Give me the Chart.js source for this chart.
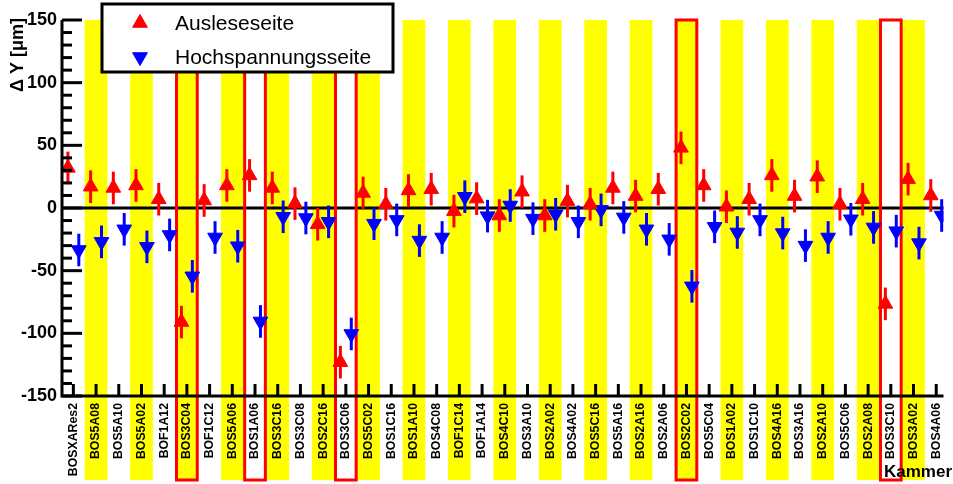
<!DOCTYPE html>
<html>
<head>
<meta charset="utf-8">
<script src="https://cdn.jsdelivr.net/npm/chart.js@4.4.1/dist/chart.umd.min.js"></script>
<style>
  html, body { margin: 0; padding: 0; background: #fff; overflow: hidden; }
</style>
</head>
<body>
<canvas id="chart" width="953" height="484"></canvas>
<script>
// Kammern (x-Achse) und gemessene Verschiebungen in µm
const kammern = ['BOSXARes2', 'BOS5A08', 'BOS5A10', 'BOS5A02', 'BOF1A12', 'BOS3C04', 'BOF1C12', 'BOS5A06',
    'BOS1A06', 'BOS3C16', 'BOS3C08', 'BOS2C16', 'BOS3C06', 'BOS5C02', 'BOS1C16', 'BOS1A10', 'BOS4C08',
    'BOF1C14', 'BOF1A14', 'BOS4C10', 'BOS3A10', 'BOS2A02', 'BOS4A02', 'BOS5C16', 'BOS5A16', 'BOS2A16',
    'BOS2A06', 'BOS2C02', 'BOS5C04', 'BOS1A02', 'BOS1C10', 'BOS4A16', 'BOS3A16', 'BOS2A10', 'BOS5C06',
    'BOS2A08', 'BOS3C10', 'BOS3A02', 'BOS4A06'];
const ausleseseite = [32, 17, 16, 18, 7, -91, 6, 18, 26, 16, 3.5, -13, -123, 12, 3, 14, 15, -2.5, 7.5, -6,
    13, -6, 5.5, 3, 16, 9.5, 15, 48, 18, 1, 7, 26, 9.5, 25, 3, 7, -76.5, 23, 10];
const hochspannungsseite = [-33.5, -27, -17, -31, -21.5, -54.5, -23.5, -30.5, -90.5, -7, -8, -11, -100.5,
    -12.5, -9.5, -26, -23.5, 9, -6.5, 2, -8.5, -5, -11, -1.5, -7.5, -17, -25, -62.5, -15, -19.5, -9.5, -20,
    -30, -23.5, -9, -15.5, -18.5, -28, -6];
const fehler = 13;
const markierteKammern = ['BOS3C04', 'BOS1A06', 'BOS3C06', 'BOS2C02', 'BOS3C10'];

const FONT = '"Liberation Sans", Arial, sans-serif';
const ROT = '#ff0000';
const BLAU = '#0000ff';
const GELB = '#ffff00';
const versatz = 0.24; // die beiden Seiten leicht nebeneinander

const bandUnten = 480;

const deko = {
    id: 'deko',
    beforeDraw(chart) {
        const { ctx, chartArea: a, scales: { x } } = chart;
        ctx.save();
        ctx.fillStyle = '#fff';
        ctx.fillRect(0, 0, chart.width, chart.height);
        // gelbe Streifen hinter jeder zweiten Kammer
        ctx.fillStyle = GELB;
        kammern.forEach((k, i) => {
            if (i % 2 === 1) {
                const l = x.getPixelForValue(i - 0.5);
                const r = x.getPixelForValue(i + 0.5);
                ctx.fillRect(l, a.top, r - l, bandUnten - a.top);
            }
        });
        ctx.restore();
    },
    beforeDatasetsDraw(chart) {
        const { ctx, chartArea: a, scales: { x, y } } = chart;
        ctx.save();
        // Nulllinie
        ctx.strokeStyle = '#000';
        ctx.lineWidth = 3;
        ctx.beginPath();
        ctx.moveTo(a.left, y.getPixelForValue(0));
        ctx.lineTo(a.right, y.getPixelForValue(0));
        ctx.stroke();

        // rote Rahmen um auffällige Kammern
        ctx.strokeStyle = ROT;
        markierteKammern.forEach(name => {
            const i = kammern.indexOf(name);
            const l = x.getPixelForValue(i - 0.5) + 1;
            const r = x.getPixelForValue(i + 0.5) - 1;
            ctx.strokeRect(l, a.top, r - l, bandUnten - a.top);
        });

        // Fehlerbalken
        chart.data.datasets.forEach(ds => {
            ctx.strokeStyle = ds.backgroundColor;
            ctx.lineWidth = 3;
            ds.data.forEach(p => {
                const px = x.getPixelForValue(p.x);
                ctx.beginPath();
                ctx.moveTo(px, y.getPixelForValue(p.y - fehler));
                ctx.lineTo(px, y.getPixelForValue(p.y + fehler));
                ctx.stroke();
            });
        });
        ctx.restore();
    },
    afterDatasetsDraw(chart) {
        const { ctx, chartArea: a, scales: { x, y } } = chart;
        ctx.save();
        ctx.strokeStyle = '#000';
        ctx.lineWidth = 3;

        // Achsen
        ctx.beginPath();
        ctx.moveTo(a.left, a.top);
        ctx.lineTo(a.left, a.bottom);
        ctx.lineTo(a.right, a.bottom);
        ctx.stroke();

        // y-Ticks nach innen
        for (let v = -150; v <= 150; v += 10) {
            const py = y.getPixelForValue(v);
            ctx.beginPath();
            ctx.moveTo(a.left, py);
            ctx.lineTo(a.left + (v % 50 === 0 ? 20 : 10), py);
            ctx.stroke();
        }
        // x-Ticks nach innen
        kammern.forEach((k, i) => {
            const px = x.getPixelForValue(i);
            ctx.beginPath();
            ctx.moveTo(px, a.bottom);
            ctx.lineTo(px, a.bottom - 12);
            ctx.stroke();
        });

        // Achsentitel
        ctx.fillStyle = '#000';
        ctx.font = 'bold 17px ' + FONT;
        ctx.textAlign = 'right';
        ctx.textBaseline = 'alphabetic';
        ctx.fillText('Kammer', 952, 477);

        ctx.save();
        ctx.translate(23, 18);
        ctx.rotate(-Math.PI / 2);
        ctx.font = 'bold 18px ' + FONT;
        ctx.fillText('\u0394 Y [\u03bcm]', 0, 0);
        ctx.restore();

        // Legende
        ctx.fillStyle = '#fff';
        ctx.fillRect(102, 4, 291, 68);
        ctx.strokeRect(102, 4, 291, 68);
        ctx.font = '21px ' + FONT;
        ctx.textAlign = 'left';
        ctx.textBaseline = 'middle';
        chart.data.datasets.forEach((ds, k) => {
            const ly = k === 0 ? 23 : 57;
            ctx.fillStyle = ds.backgroundColor;
            ctx.strokeStyle = ds.backgroundColor;
            ctx.lineWidth = 1;
            Chart.helpers.drawPoint(ctx, {
                pointStyle: 'triangle',
                radius: ds.pointRadius,
                rotation: ds.pointRotation || 0,
                borderWidth: 1
            }, 140, ly);
            ctx.fillStyle = '#000';
            ctx.fillText(ds.label, 175, ly + 1);
        });
        ctx.restore();
    }
};

new Chart(document.getElementById('chart'), {
    type: 'scatter',
    data: {
        datasets: [{
            label: 'Ausleseseite',
            data: ausleseseite.map((v, i) => ({ x: i - versatz, y: v })),
            backgroundColor: ROT,
            borderColor: ROT,
            borderWidth: 1,
            pointStyle: 'triangle',
            pointRadius: 8.5
        }, {
            label: 'Hochspannungsseite',
            data: hochspannungsseite.map((v, i) => ({ x: i + versatz, y: v })),
            backgroundColor: BLAU,
            borderColor: BLAU,
            borderWidth: 1,
            pointStyle: 'triangle',
            pointRotation: 180,
            pointRadius: 8.5
        }]
    },
    options: {
        responsive: false,
        animation: false,
        layout: { padding: { top: 20, left: 0, right: 0, bottom: 0 } },
        plugins: {
            legend: { display: false },
            tooltip: { enabled: false }
        },
        scales: {
            x: {
                type: 'linear',
                min: -0.5,
                max: 38.32,
                grid: { display: false, drawTicks: false },
                border: { display: false },
                afterBuildTicks: s => { s.ticks = kammern.map((k, i) => ({ value: i })); },
                afterFit: s => { s.height = 88; s.paddingLeft = 0; s.paddingRight = 0; },
                ticks: {
                    autoSkip: false,
                    minRotation: 90,
                    maxRotation: 90,
                    padding: 7,
                    color: '#000',
                    font: { family: FONT, size: 12.3, weight: 'bold' },
                    callback: v => kammern[v]
                }
            },
            y: {
                min: -150,
                max: 150,
                grid: { display: false, drawTicks: false },
                border: { display: false },
                afterFit: s => { s.width = 62; s.paddingTop = 0; s.paddingBottom = 0; },
                ticks: {
                    stepSize: 50,
                    padding: 5,
                    color: '#000',
                    font: { family: FONT, size: 18, weight: 'bold' }
                }
            }
        }
    },
    plugins: [deko]
});
</script>
</body>
</html>
